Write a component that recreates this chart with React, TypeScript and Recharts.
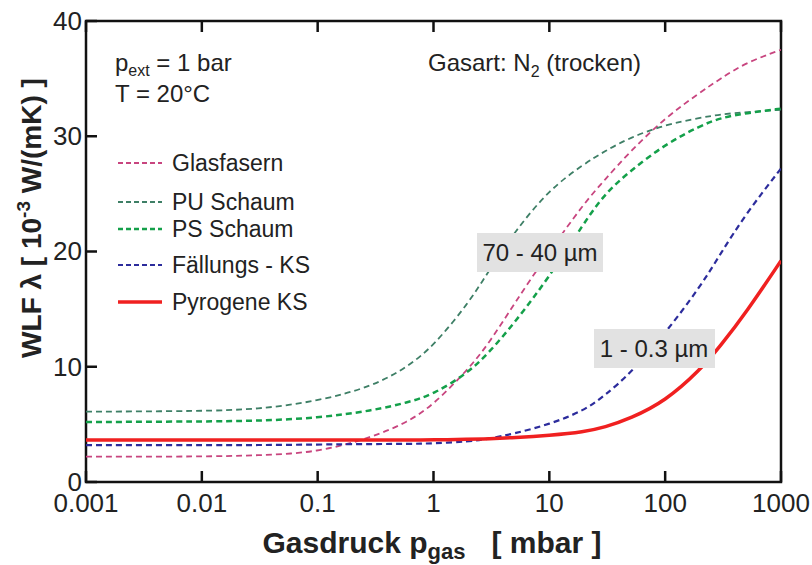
import React from "react";
import { LineChart, Line, XAxis, YAxis, Legend, ReferenceArea } from "recharts";

// gas pressure in mbar (log axis)
const pressure = [0.001, 0.01, 0.03, 0.1, 0.3, 0.6, 1, 2, 3, 5, 10, 20, 30, 50, 100, 200, 300, 500, 1000];

// thermal conductivity in 10^-3 W/(mK)
const glasfasern = [2.2, 2.2, 2.3, 2.55, 3.9, 5.2, 6.7, 9.8, 12.0, 15.5, 20.0, 24.2, 26.2, 28.7, 31.6, 33.8, 35.0, 36.4, 37.5];
const puSchaum = [6.1, 6.15, 6.3, 7.0, 8.3, 10.0, 11.8, 15.5, 18.3, 21.7, 25.4, 27.6, 28.7, 29.9, 31.0, 31.6, 31.9, 32.1, 32.3];
const psSchaum = [5.2, 5.25, 5.3, 5.55, 6.2, 6.9, 7.6, 9.5, 11.2, 13.8, 17.8, 22.5, 25.0, 27.0, 29.3, 30.9, 31.6, 32.0, 32.4];
const faellungsKS = [3.2, 3.2, 3.2, 3.25, 3.3, 3.3, 3.35, 3.5, 3.75, 4.2, 5.0, 6.2, 7.5, 9.4, 12.9, 16.9, 19.8, 23.3, 27.2];
const pyrogeneKS = [3.65, 3.65, 3.65, 3.65, 3.65, 3.65, 3.65, 3.7, 3.75, 3.85, 4.05, 4.35, 4.75, 5.5, 7.0, 9.7, 11.8, 14.7, 19.2];

const xTicks = [0.001, 0.01, 0.1, 1, 10, 100, 1000];
const yTicks = [0, 10, 20, 30, 40];

const data = pressure.map((p, i) => ({
  p,
  glas: glasfasern[i],
  pu: puSchaum[i],
  ps: psSchaum[i],
  fks: faellungsKS[i],
  pks: pyrogeneKS[i],
}));

const series = [
  { key: "glas", name: "Glasfasern", color: "#c8457f", width: 1.8, dash: "6 4" },
  { key: "pu", name: "PU Schaum", color: "#3e7f66", width: 1.8, dash: "6 4" },
  { key: "ps", name: "PS Schaum", color: "#14a04a", width: 2.5, dash: "6 4" },
  { key: "fks", name: "Fällungs - KS", color: "#2c2c9c", width: 2.2, dash: "6 4" },
  { key: "pks", name: "Pyrogene KS", color: "#f02020", width: 3.5, dash: undefined as string | undefined },
];

const FONT = "'Liberation Sans', Arial, Helvetica, sans-serif";
const INK = "#222";
const legendRows = [23, 62, 89, 125, 162];

// inward tick marks, drawn from the positions recharts hands to each tick
const BottomTick = (props: any) => (
  <g>
    <line x1={props.x} x2={props.x} y1={props.y - 11} y2={props.y - 22} stroke="#111" strokeWidth={2.5} />
    <text x={props.x} y={props.y} dy="0.72em" textAnchor="middle" fontSize={26} fill={INK} fontFamily={FONT}>
      {String(props.payload.value)}
    </text>
  </g>
);
const TopTick = (props: any) => (
  <line x1={props.x} x2={props.x} y1={props.y} y2={props.y + 11} stroke="#111" strokeWidth={2.5} />
);
const LeftTick = (props: any) => (
  <g>
    <line x1={props.x + 4} x2={props.x + 15} y1={props.y} y2={props.y} stroke="#111" strokeWidth={2.5} />
    <text x={props.x} y={props.y} dy="0.34em" textAnchor="end" fontSize={26} fill={INK} fontFamily={FONT}>
      {props.payload.value}
    </text>
  </g>
);
const RightTick = (props: any) => (
  <line x1={props.x} x2={props.x - 11} y1={props.y} y2={props.y} stroke="#111" strokeWidth={2.5} />
);

function LegendBox() {
  return (
    <svg width={260} height={190} style={{ display: "block" }}>
      {series.map((s, i) => (
        <g key={s.key}>
          <line
            x1={8}
            x2={52}
            y1={legendRows[i]}
            y2={legendRows[i]}
            stroke={s.color}
            strokeWidth={s.width}
            strokeDasharray={s.dash ? "5 3" : undefined}
          />
          <text x={62} y={legendRows[i] + 8} fontSize={23} fill={INK} fontFamily={FONT}>
            {s.name}
          </text>
        </g>
      ))}
    </svg>
  );
}

function Overlay() {
  return (
    <svg
      width={812}
      height={565}
      style={{ position: "absolute", left: 0, top: 0, pointerEvents: "none" }}
      fontFamily={FONT}
    >
      <text x={115} y={71} fontSize={24} fill={INK}>
        p<tspan fontSize={16} dy={5}>ext</tspan>
        <tspan dy={-5}> = 1 bar</tspan>
      </text>
      <text x={115} y={102} fontSize={24} fill={INK}>T = 20°C</text>
      <text x={428} y={71} fontSize={24} fill={INK}>
        Gasart: N<tspan fontSize={16} dy={6}>2</tspan>
        <tspan dy={-6}> (trocken)</tspan>
      </text>

      <rect x={477} y={233} width={126} height={39} fill="#e2e2e2" />
      <text x={540} y={261} fontSize={24} fill={INK} textAnchor="middle">70 - 40 µm</text>
      <rect x={594} y={329} width={121} height={39} fill="#e2e2e2" />
      <text x={654} y={357} fontSize={24} fill={INK} textAnchor="middle">1 - 0.3 µm</text>

      <text x={432} y={553} fontSize={30} fontWeight="bold" fill={INK} textAnchor="middle">
        Gasdruck p<tspan fontSize={22} dy={6}>gas</tspan>
        <tspan dy={-6} dx={26}>[ mbar ]</tspan>
      </text>
      <text
        transform="translate(41 218) rotate(-90)"
        fontSize={28}
        fontWeight="bold"
        fill={INK}
        textAnchor="middle"
      >
        WLF λ [ 10<tspan fontSize={19} dy={-11}>-3</tspan>
        <tspan dy={11}> W/(mK) ]</tspan>
      </text>
    </svg>
  );
}

export default function App() {
  return (
    <div style={{ position: "relative", width: 812, height: 565, background: "#fff" }}>
      <style>{"body{margin:0}"}</style>
      <LineChart width={812} height={565} data={data} margin={{ top: 20, right: 30, bottom: 23, left: 85 }}>
        <XAxis
          xAxisId="b"
          dataKey="p"
          type="number"
          scale="log"
          domain={[0.001, 1000]}
          allowDataOverflow
          ticks={xTicks}
          interval={0}
          height={60}
          tickSize={0}
          tickMargin={11}
          tick={BottomTick}
          tickLine={false}
          axisLine={false}
        />
        <XAxis
          xAxisId="t"
          orientation="top"
          dataKey="p"
          type="number"
          scale="log"
          domain={[0.001, 1000]}
          allowDataOverflow
          ticks={xTicks}
          interval={0}
          height={1}
          tickSize={0}
          tickMargin={0}
          tick={TopTick}
          tickLine={false}
          axisLine={false}
        />
        <YAxis
          yAxisId="l"
          domain={[0, 40]}
          ticks={yTicks}
          interval={0}
          width={1}
          tickSize={0}
          tickMargin={4}
          tick={LeftTick}
          tickLine={false}
          axisLine={false}
        />
        <YAxis
          yAxisId="r"
          orientation="right"
          domain={[0, 40]}
          ticks={yTicks}
          interval={0}
          width={1}
          tickSize={0}
          tickMargin={0}
          tick={RightTick}
          tickLine={false}
          axisLine={false}
        />
        {series.map((s) => (
          <Line
            key={s.key}
            xAxisId="b"
            yAxisId="l"
            type="basis"
            dataKey={s.key}
            name={s.name}
            stroke={s.color}
            strokeWidth={s.width}
            strokeDasharray={s.dash}
            dot={false}
            activeDot={false}
            isAnimationActive={false}
          />
        ))}
        <ReferenceArea
          xAxisId="b"
          yAxisId="l"
          x1={0.001}
          x2={1000}
          y1={0}
          y2={40}
          fill="none"
          fillOpacity={0}
          stroke="#111"
          strokeWidth={2.5}
          ifOverflow="visible"
        />
        <Legend
          layout="vertical"
          align="center"
          verticalAlign="middle"
          content={() => <LegendBox />}
          wrapperStyle={{ left: 110, top: 140, width: 260, height: 190 }}
        />
      </LineChart>
      <Overlay />
    </div>
  );
}
